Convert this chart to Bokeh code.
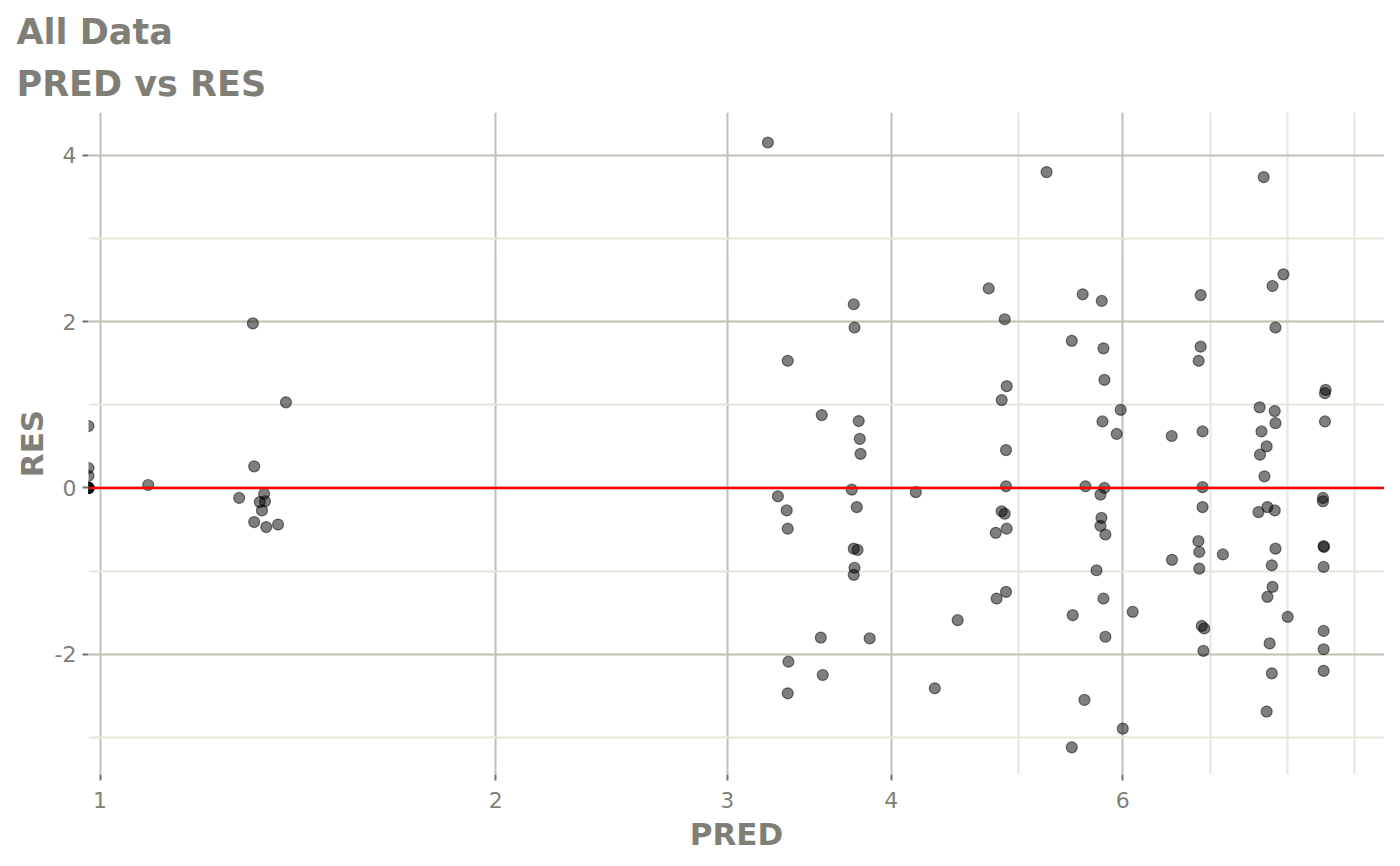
from bokeh.plotting import figure
from bokeh.models import FixedTicker, Span, Title, Range1d
from bokeh.embed import file_html
from bokeh.resources import INLINE

pred = [
    0.98, 0.98, 0.98, 0.98, 0.98, 0.98, 0.98, 0.98, 0.98,
    1.088,
    1.307, 1.385, 1.31, 1.276, 1.333, 1.323, 1.335, 1.328, 1.31, 1.338, 1.366,
    3.222, 3.336, 3.279, 3.33, 3.336, 3.34, 3.336,
    3.541, 3.535, 3.547,
    3.745, 3.75, 3.778, 3.785, 3.79, 3.732, 3.765, 3.745, 3.77, 3.75, 3.745, 3.851,
    4.175, 4.316, 4.493,
    4.744, 4.879, 4.896, 4.853, 4.89, 4.89, 4.853, 4.879, 4.896, 4.803, 4.89, 4.81,
    5.25, 5.593, 5.783, 5.487, 5.80, 5.81, 5.978, 5.79, 5.936, 5.62, 5.81, 5.77,
    5.78, 5.77, 5.82, 5.73, 5.80, 5.496, 6.105, 5.82, 5.61, 6.0, 5.487,
    6.877, 6.877, 6.853, 6.537, 6.9, 6.9, 6.9, 6.85, 6.86, 6.54, 7.15, 6.86, 6.89, 6.92, 6.91,
    7.68, 7.95, 7.80, 7.84, 7.626, 7.83, 7.84, 7.65, 7.72, 7.63, 7.69, 7.61, 7.73, 7.83,
    7.84, 7.79, 7.80, 7.73, 8.01, 7.76, 7.79, 7.72,
    8.56, 8.55, 8.55, 8.52, 8.52, 8.53, 8.535, 8.53, 8.53, 8.53, 8.53,
]
res = [
    0.745, 0.24, 0.145, 0.0, 0.0, 0.0, 0.0, 0.0, 0.0,
    0.036,
    1.98, 1.03, 0.26, -0.12, -0.07, -0.17, -0.16, -0.27, -0.41, -0.47, -0.44,
    4.156, 1.53, -0.10, -0.27, -0.49, -2.09, -2.47,
    0.877, -1.80, -2.25,
    2.21, 1.93, 0.805, 0.59, 0.41, -0.02, -0.23, -0.73, -0.745, -0.96, -1.045, -1.81,
    -0.05, -2.41, -1.59,
    2.40, 2.03, 1.225, 1.057, 0.456, 0.02, -0.28, -0.31, -0.49, -0.54, -1.25, -1.33,
    3.80, 2.33, 2.25, 1.77, 1.68, 1.30, 0.94, 0.80, 0.65, 0.02, 0.0, -0.08,
    -0.36, -0.455, -0.56, -0.99, -1.33, -1.53, -1.49, -1.79, -2.55, -2.895, -3.12,
    2.32, 1.70, 1.53, 0.625, 0.68, 0.01, -0.23, -0.64, -0.77, -0.865, -0.80, -0.97, -1.66, -1.69, -1.96,
    3.74, 2.57, 2.43, 1.93, 0.97, 0.925, 0.78, 0.68, 0.50, 0.40, 0.14, -0.29, -0.23, -0.27,
    -0.73, -0.93, -1.19, -1.31, -1.55, -1.87, -2.23, -2.69,
    1.18, 1.14, 0.80, -0.12, -0.16, -0.70, -0.71, -0.95, -1.72, -1.94, -2.20,
]

x_ticks = [1, 2, 3, 4, 6]
x_minor = [5, 7, 8, 9]
y_ticks = [-2, 0, 2, 4]
y_minor = [-3, -1, 1, 3]

TXT = "#7f7f77"
MAJOR = "#c0c0b4"
MINOR = "#e6e6da"

p = figure(width=1384, height=854, x_axis_type="log",
           x_range=Range1d(0.98, 9.49), y_range=Range1d(-3.447, 4.517),
           output_backend="svg", toolbar_location=None,
           min_border_left=88, min_border_right=0, min_border_top=112, min_border_bottom=10)
p.outline_line_color = None
p.background_fill_color = "white"

p.xaxis.ticker = FixedTicker(ticks=x_ticks, minor_ticks=x_minor)
p.yaxis.ticker = FixedTicker(ticks=y_ticks, minor_ticks=y_minor)
p.xaxis.major_label_overrides = {t: str(t) for t in x_ticks}
p.yaxis.major_label_overrides = {t: str(t) for t in y_ticks}

for ax in (p.xaxis, p.yaxis):
    ax.axis_line_color = None
    ax.minor_tick_line_color = None
    ax.major_tick_line_color = "#707068"
    ax.major_tick_line_width = 2
    ax.major_tick_out = 6
    ax.major_tick_in = 0
    ax.major_label_text_color = TXT
    ax.major_label_text_font = "DejaVu Sans"
    ax.major_label_text_font_size = "22px"
    ax.axis_label_text_color = TXT
    ax.axis_label_text_font = "DejaVu Sans"
    ax.axis_label_text_font_style = "bold"
    ax.axis_label_text_font_size = "31px"

p.xaxis.axis_label = "PRED"
p.yaxis.axis_label = "RES"
p.xaxis.major_label_standoff = 11
p.yaxis.major_label_standoff = 6
p.xaxis.axis_label_standoff = 5
p.yaxis.axis_label_standoff = 2

for g in (p.xgrid, p.ygrid):
    g.grid_line_color = MAJOR
    g.grid_line_width = 2
    g.minor_grid_line_color = MINOR
    g.minor_grid_line_width = 2

p.scatter(pred, res, size=11, fill_color="black", fill_alpha=0.5,
          line_color="black", line_alpha=0.5, line_width=1.2)

p.add_layout(Span(location=0, dimension="width", line_color="red", line_width=2.5))

p.add_layout(Title(text="PRED vs RES", text_font="DejaVu Sans", text_font_style="bold",
                   text_font_size="35px", text_color=TXT, align="left", offset=-72,
                   standoff=18), "above")
p.add_layout(Title(text="All Data", text_font="DejaVu Sans", text_font_style="bold",
                   text_font_size="35px", text_color=TXT, align="left", offset=-72,
                   standoff=1), "above")
p.add_layout(Title(text=" ", text_font_size="2px", standoff=4), "above")

open("out.html", "w").write(file_html(p, INLINE))
